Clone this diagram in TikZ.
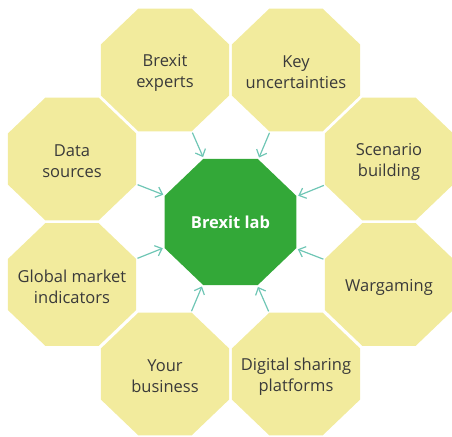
\documentclass[tikz,border=0pt]{standalone}
\usepackage{fontspec}
\setmainfont{Open Sans}
\usetikzlibrary{arrows.meta, positioning, shapes.geometric}
\definecolor{labgreen}{HTML}{33A838}
\definecolor{itemyellow}{HTML}{F2EB9D}
\definecolor{linkteal}{HTML}{6FC6B5}
\definecolor{textgrey}{HTML}{3A3A3A}

\begin{document}
\begin{tikzpicture}[x=1pt, y=-1pt,
    item/.style={regular polygon, regular polygon sides=8, fill=itemyellow,
        minimum size=133pt, inner sep=0pt, outer sep=0pt, xscale=1.045},
    itemtext/.style={align=center, text=textgrey, inner sep=0pt, yshift=-2.5pt,
        font=\fontsize{16.5}{21}\selectfont},
    hub/.style={item, fill=labgreen, minimum size=136.5pt},
    hubtext/.style={align=center, text=white, inner sep=0pt,
        font=\fontsize{16.5}{21}\selectfont\bfseries},
    link/.style={-{Straight Barb[length=6pt, width=11pt]}, line width=1.2pt,
        linkteal, shorten >=2pt, shorten <=1.5pt}
]
\useasboundingbox (0,0) rectangle (452,436);
% Centre
\node[hub, label={[hubtext]center:Brexit lab}] (lab) at (230.5,222) {};

% Surrounding octagons
\node[item, label={[itemtext]center:Brexit\\experts}]
    (experts) at (165,70) {};
\node[item, label={[itemtext]center:Key\\uncertainties}]
    (uncert) at (296,70) {};
\node[item, label={[itemtext]center:Data\\sources}]
    (data) at (72,159) {};
\node[item, label={[itemtext]center:Scenario\\building}]
    (scenario) at (389,159) {};
\node[item, label={[itemtext]center:Global market\\indicators}]
    (global) at (72,284.5) {};
\node[item, label={[itemtext]center:Wargaming}]
    (wargaming) at (389,284.5) {};
\node[item, label={[itemtext]center:Your\\business}]
    (business) at (165,374) {};
\node[item, label={[itemtext]center:Digital sharing\\platforms}]
    (digital) at (296,374) {};

% Arrows into the corners of the lab
\draw[link] (experts)   -- (lab.112.5);
\draw[link] (uncert)    -- (lab.67.5);
\draw[link] (data)      -- (lab.157.5);
\draw[link] (global)    -- (lab.202.5);
\draw[link] (scenario)  -- (lab.22.5);
\draw[link] (wargaming) -- (lab.337.5);
\draw[link] (business)  -- (lab.247.5);
\draw[link] (digital)   -- (lab.292.5);
\end{tikzpicture}
\end{document}
